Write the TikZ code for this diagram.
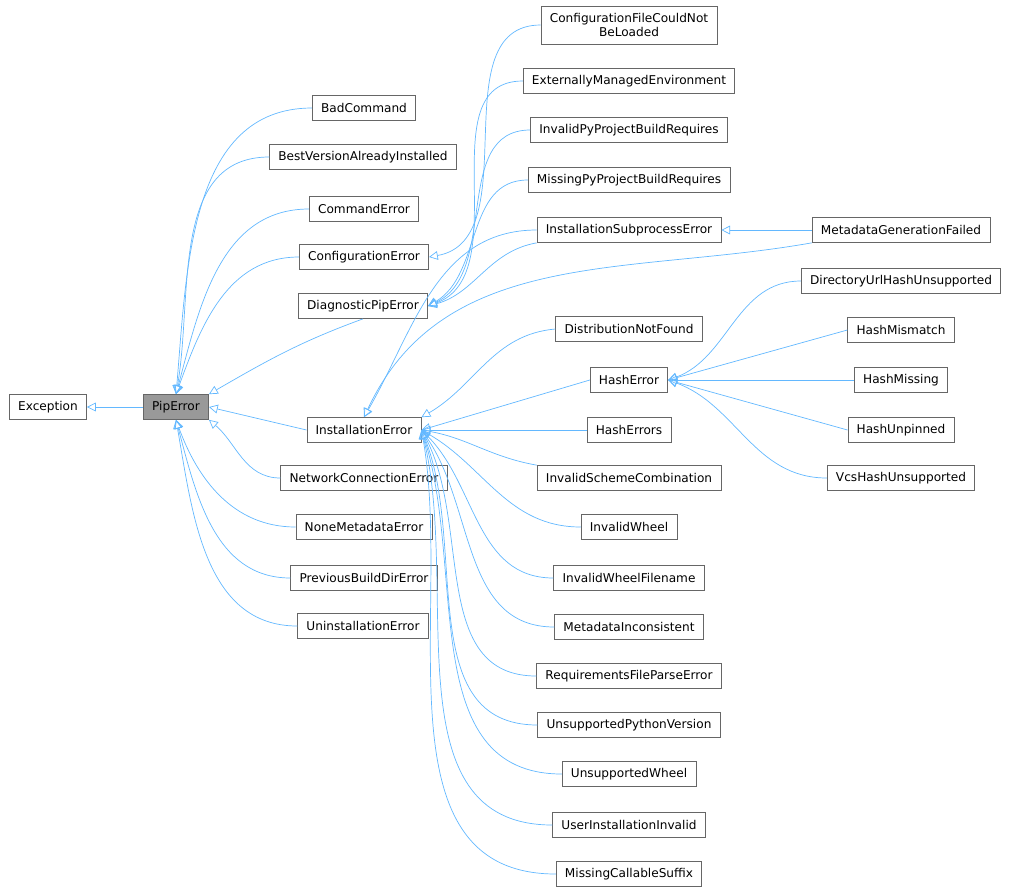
\documentclass[tikz,border=0pt]{standalone}
\usepackage{fontspec}
\setmainfont{DejaVu Sans}
\usetikzlibrary{arrows.meta}
\definecolor{edgeblue}{HTML}{63B8FF}
\definecolor{boxgray}{HTML}{666666}
\begin{document}
\begin{tikzpicture}[
    x=0.02cm, y=-0.02cm,
    every node/.style={font=\fontsize{6.9}{8}\selectfont},
    cls/.style={draw=boxgray, rectangle, inner xsep=5pt, minimum height=0.5cm, align=center},
    inh/.style={draw=edgeblue, -{Triangle[open, length=5pt, width=5pt]}}
  ]
  \useasboundingbox (0,0) rectangle (1016,893);

  % base classes
  \node[cls] (exc) at (48,407) {Exception};
  \node[cls, fill=gray!80] (pip) at (176,407) {PipError};

  % direct subclasses of PipError
  \node[cls] (badcmd) at (364,108) {BadCommand};
  \node[cls] (bestver) at (363,157) {BestVersionAlreadyInstalled};
  \node[cls] (cmderr) at (364,209) {CommandError};
  \node[cls] (conferr) at (364,257) {ConfigurationError};
  \node[cls] (diag) at (363,306) {DiagnosticPipError};
  \node[cls] (insterr) at (364,430) {InstallationError};
  \node[cls] (neterr) at (364,478) {NetworkConnectionError};
  \node[cls] (nonemeta) at (364,527) {NoneMetadataError};
  \node[cls] (prevbuild) at (364,578) {PreviousBuildDirError};
  \node[cls] (uninst) at (363,626) {UninstallationError};

  % third column
  \node[cls, minimum height=0.76cm, inner ysep=1pt] (conffile) at (629,25) {ConfigurationFileCouldNot\\BeLoaded};
  \node[cls] (extmanaged) at (629,81) {ExternallyManagedEnvironment};
  \node[cls] (invpyproj) at (629,130) {InvalidPyProjectBuildRequires};
  \node[cls] (misspyproj) at (629,180) {MissingPyProjectBuildRequires};
  \node[cls] (subproc) at (629,230) {InstallationSubprocessError};
  \node[cls] (distnf) at (629,329) {DistributionNotFound};
  \node[cls] (hasherr) at (629,380) {HashError};
  \node[cls] (hasherrs) at (629,430) {HashErrors};
  \node[cls] (invscheme) at (629,478) {InvalidSchemeCombination};
  \node[cls] (invwheel) at (629,527) {InvalidWheel};
  \node[cls] (invwheelfn) at (629,578) {InvalidWheelFilename};
  \node[cls] (metaincons) at (629,627) {MetadataInconsistent};
  \node[cls] (reqparse) at (629,676) {RequirementsFileParseError};
  \node[cls] (unsuppy) at (629,725) {UnsupportedPythonVersion};
  \node[cls] (unsupwheel) at (629,774) {UnsupportedWheel};
  \node[cls] (userinst) at (629,825) {UserInstallationInvalid};
  \node[cls] (misscall) at (629,874) {MissingCallableSuffix};

  % fourth column
  \node[cls] (metagen) at (901,230) {MetadataGenerationFailed};
  \node[cls] (dirurl) at (901,281) {DirectoryUrlHashUnsupported};
  \node[cls] (hashmism) at (901,330) {HashMismatch};
  \node[cls] (hashmiss) at (901,380) {HashMissing};
  \node[cls] (hashunp) at (901,430) {HashUnpinned};
  \node[cls] (vcshash) at (901,478) {VcsHashUnsupported};

  % PipError edges
  \draw[inh] (pip) -- (exc);
  \draw[inh] (badcmd.west) to[out=180, in=85] (pip.north);
  \draw[inh] (bestver.west) to[out=180, in=80] (pip.north);
  \draw[inh] (cmderr.west) to[out=180, in=75] (pip.north);
  \draw[inh] (conferr.west) to[out=180, in=70] (pip.north);
  \draw[inh] (diag.south) to[out=200, in=30] (pip.north east);
  \draw[inh] (insterr.west) -- (pip.east);
  \draw[inh] (neterr.west) to[out=180, in=-40] (pip.south east);
  \draw[inh] (nonemeta.west) to[out=180, in=-70] (pip.south);
  \draw[inh] (prevbuild.west) to[out=180, in=-75] (pip.south);
  \draw[inh] (uninst.west) to[out=180, in=-80] (pip.south);

  % ConfigurationError and DiagnosticPipError edges
  \draw[inh] (conffile.west) to[out=180, in=10] (conferr.east);
  \draw[inh] (extmanaged.west) to[out=180, in=20] (diag.east);
  \draw[inh] (invpyproj.west) to[out=180, in=25] (diag.east);
  \draw[inh] (misspyproj.west) to[out=180, in=30] (diag.east);
  \draw[inh] (subproc.south west) to[out=190, in=15] (diag.east);

  % InstallationError edges
  \draw[inh] (subproc.west) to[out=180, in=60] (insterr.north);
  \draw[inh] (metagen.south west) to[out=190, in=65] (insterr.north);
  \draw[inh] (metagen) -- (subproc);
  \draw[inh] (distnf.west) to[out=185, in=30] (insterr.north east);
  \draw[inh] (hasherr.west) -- (insterr.east);
  \draw[inh] (hasherrs.west) -- (insterr.east);
  \draw[inh] (invscheme.north west) to[out=170, in=-10] (insterr.east);
  \foreach \c/\a in {invwheel/-30, invwheelfn/-45, metaincons/-55, reqparse/-62,
                     unsuppy/-68, unsupwheel/-72, userinst/-76, misscall/-80}
    \draw[inh] (\c.west) to[out=180, in=\a] (insterr.east);

  % HashError edges
  \draw[inh] (dirurl.west) to[out=180, in=20] (hasherr.east);
  \draw[inh] (hashmism.west) -- (hasherr.east);
  \draw[inh] (hashmiss.west) -- (hasherr.east);
  \draw[inh] (hashunp.west) -- (hasherr.east);
  \draw[inh] (vcshash.west) to[out=180, in=-20] (hasherr.east);
\end{tikzpicture}
\end{document}
